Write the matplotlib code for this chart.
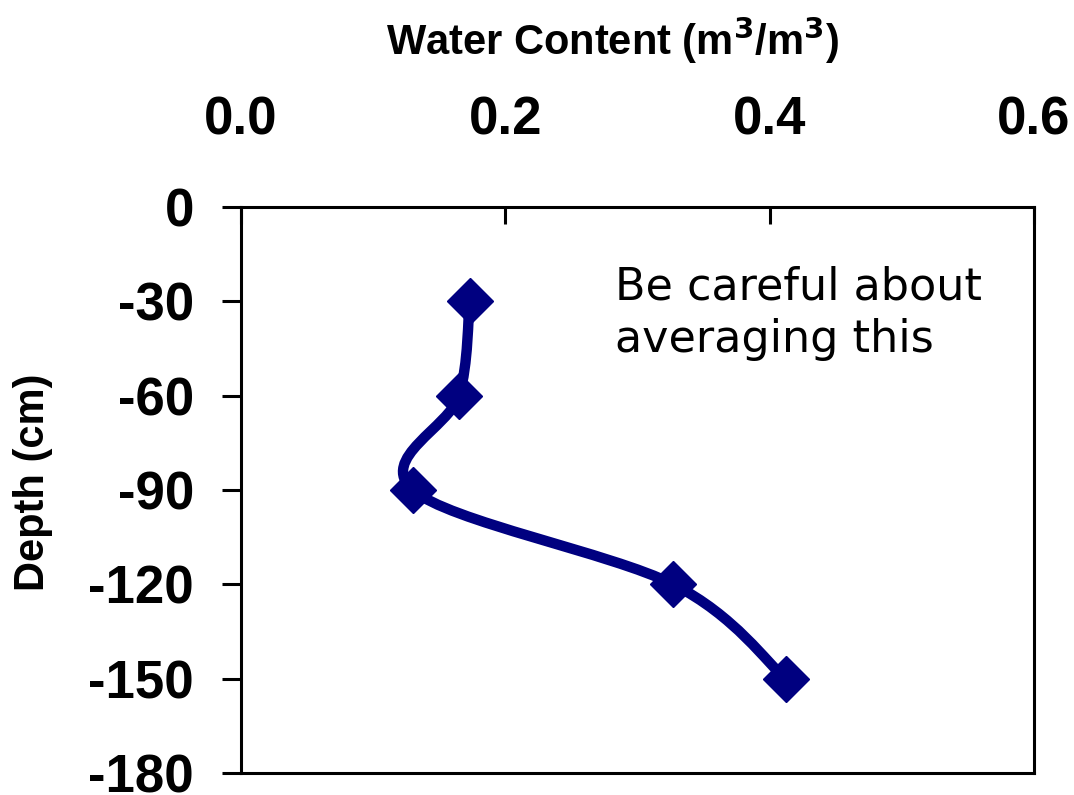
import matplotlib
matplotlib.use('Agg')
import matplotlib.pyplot as plt
from matplotlib.path import Path
from matplotlib.patches import PathPatch
import numpy as np

# data
depth = [-30, -60, -90, -120, -150]
water = [0.173, 0.165, 0.130, 0.327, 0.412]
xticks = [0.0, 0.2, 0.4, 0.6]
yticks = [0, -30, -60, -90, -120, -150, -180]
note = ["Be careful about", "averaging this"]

navy = '#000080'
plt.rcParams['font.family'] = ['Liberation Sans', 'DejaVu Sans']
plt.rcParams['axes.unicode_minus'] = False

W, H = 1074, 795
fig = plt.figure(figsize=(W / 100, H / 100), dpi=100)
ax = fig.add_axes([241 / W, 1 - 773 / H, (1034 - 241) / W, (773 - 207) / H])


# smooth line like excel (catmull-rom as bezier segments)
def smooth_path(xs, ys):
    pts = np.column_stack([xs, ys])
    n = len(pts)
    verts = [pts[0]]
    codes = [Path.MOVETO]
    for i in range(n - 1):
        p0 = pts[i - 1] if i > 0 else pts[i]
        p1 = pts[i]
        p2 = pts[i + 1]
        p3 = pts[i + 2] if i + 2 < n else pts[i + 1]
        c1 = p1 + (p2 - p0) / 6
        c2 = p2 - (p3 - p1) / 6
        verts += [c1, c2, p2]
        codes += [Path.CURVE4] * 3
    return Path(verts, codes)


ax.add_patch(PathPatch(smooth_path(water, depth), facecolor='none', edgecolor=navy,
                       lw=7.5, capstyle='round', joinstyle='round', zorder=2))
ax.plot(water, depth, ls='none', marker='D', ms=23, color=navy, zorder=3)

ax.set_xlim(0, 0.6)
ax.set_ylim(-180, 0)
ax.xaxis.tick_top()
ax.set_xticks(xticks)
ax.set_xticklabels(['%.1f' % v for v in xticks])
ax.set_yticks(yticks)
ax.tick_params(axis='x', direction='in', length=12, width=2.2, pad=44,
               labelsize=38, top=True, bottom=False)
ax.tick_params(axis='y', direction='out', length=14, width=2.2, pad=20,
               labelsize=38, right=False)
for lab in ax.get_xticklabels() + ax.get_yticklabels():
    lab.set_fontweight('bold')
for s in ax.spines.values():
    s.set_linewidth(2.2)

fig.text(612 / W, 1 - 40 / H, 'Water Content (m$^\\mathbf{3}$/m$^\\mathbf{3}$)',
         ha='center', va='center', fontsize=30, fontweight='bold')
fig.text(33 / W, 1 - 482 / H, 'Depth (cm)', rotation=90,
         ha='center', va='center', fontsize=30, fontweight='bold')
for i, line in enumerate(note):
    fig.text(615 / W, 1 - (300 + 52 * i) / H, line, ha='left', va='baseline',
             fontsize=32, family=['DejaVu Sans'])

fig.savefig('out.png', dpi=100)
